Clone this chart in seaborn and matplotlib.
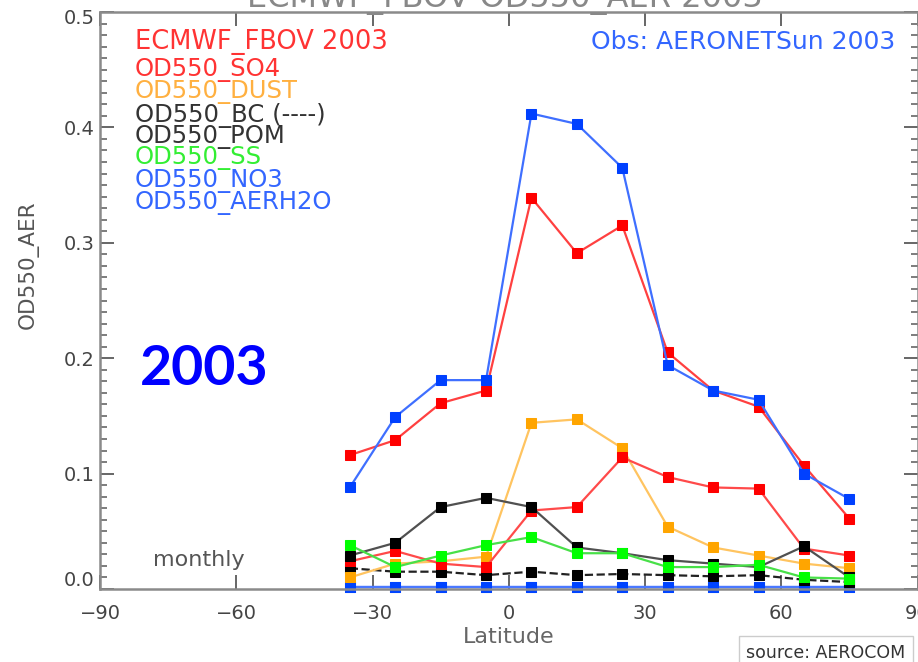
import matplotlib
matplotlib.use("Agg")
import matplotlib.pyplot as plt
from matplotlib.ticker import MultipleLocator, FixedLocator
from matplotlib.transforms import ScaledTranslation
import seaborn as sns

# ---- data ----
latitudes = [-35, -25, -15, -5, 5, 15, 25, 35, 45, 55, 65, 75]
obs_aeronet = [0.088, 0.149, 0.181, 0.181, 0.412, 0.403, 0.365, 0.194, 0.172, 0.164, 0.100, 0.078]
model_total = [0.116, 0.129, 0.161, 0.172, 0.339, 0.291, 0.315, 0.205, 0.172, 0.158, 0.107, 0.061]
od550_so4 = [0.024, 0.033, 0.022, 0.019, 0.068, 0.071, 0.114, 0.097, 0.088, 0.087, 0.035, 0.029]
od550_dust = [0.010, 0.022, 0.024, 0.028, 0.144, 0.147, 0.122, 0.054, 0.036, 0.029, 0.022, 0.018]
od550_bc = [0.018, 0.015, 0.015, 0.012, 0.015, 0.012, 0.013, 0.012, 0.011, 0.012, 0.008, 0.006]
od550_pom = [0.029, 0.040, 0.071, 0.079, 0.071, 0.036, 0.031, 0.025, 0.022, 0.019, 0.037, 0.010]
od550_ss = [0.038, 0.019, 0.029, 0.038, 0.045, 0.031, 0.031, 0.019, 0.019, 0.021, 0.010, 0.009]
od550_no3 = [0.002] * 12
od550_aerh2o = [0.002] * 12
x_ticks = [-90, -60, -30, 0, 30, 60, 90]
y_ticks = [0.0, 0.1, 0.2, 0.3, 0.4, 0.5]
legend_labels = ["OD550_SO4", "OD550_DUST", "OD550_BC (----)", "OD550_POM",
                 "OD550_SS", "OD550_NO3", "OD550_AERH2O"]

W, H = 918, 662
fig = plt.figure(figsize=(W / 100, H / 100), dpi=100)
ax = fig.add_axes([100 / W, 73 / H, 817.5 / W, 577 / H])


def px(x, y):
    return x / W, 1 - y / H


def draw(vals, lc, mc, ls="-"):
    sns.lineplot(x=latitudes, y=vals, ax=ax, color=lc, linestyle=ls, linewidth=1.6,
                 marker="s", markersize=7, markerfacecolor=mc, markeredgecolor=mc,
                 estimator=None, sort=False, legend=False, clip_on=False)


draw(od550_aerh2o, "#4a78ff", "#0044ff")
draw(od550_no3, "#4a78ff", "#0044ff")
draw(od550_bc, "#222222", "#000000", "--")
draw(od550_dust, "#ffc460", "#ffa500")
draw(od550_so4, "#ff4a4a", "#ff0000")
draw(od550_pom, "#505050", "#000000")
draw(od550_ss, "#48e048", "#00ff00")
draw(model_total, "#ff4040", "#ff0000")
draw(obs_aeronet, "#3f6fff", "#0040ff")

ax.set_xlim(-90, 90)
ax.set_ylim(0, 0.5)
ax.xaxis.set_major_locator(FixedLocator(x_ticks))
ax.yaxis.set_major_locator(FixedLocator(y_ticks))
ax.yaxis.set_minor_locator(MultipleLocator(0.01))
ax.set_yticklabels([f"{v:.1f}" for v in y_ticks])
ax.set_xticklabels([f"{v}".replace("-", "\u2212") for v in x_ticks])
ax.tick_params(which="major", direction="in", top=True, right=True, length=10,
               width=1.4, color="#666666", labelsize=14, labelcolor="#444444")
ax.tick_params(axis="x", which="major", pad=11)
ax.tick_params(axis="y", which="major", pad=4)
ax.tick_params(which="minor", direction="in", right=True, length=5, width=1.2,
               color="#666666")
for s in ax.spines.values():
    s.set_color("#8a8a8a")
    s.set_linewidth(1.8)

# end labels of the y axis sit slightly inside, as in the reference
ylabels = ax.get_yticklabels()
ylabels[0].set_transform(ylabels[0].get_transform() + ScaledTranslation(0, 0.10, fig.dpi_scale_trans))
ylabels[-1].set_transform(ylabels[-1].get_transform() + ScaledTranslation(0, -0.05, fig.dpi_scale_trans))

# axis labels
fig.text(*px(28, 265), "OD550_AER", rotation=90, ha="center", va="center",
         fontsize=15.5, color="#555555")
fig.text(*px(509, 637), "Latitude", ha="center", va="center", fontsize=16,
         color="#666666")

# cut-off title
fig.text(*px(505, 7), "ECMWF_FBOV OD550_AER 2003", ha="center", va="baseline",
         fontsize=23, color="#888888")

# legend texts
fig.text(*px(135, 42), "ECMWF_FBOV 2003", ha="left", va="center", fontsize=18.5,
         color="#ff3333")
fig.text(*px(895, 42), "Obs: AERONETSun 2003", ha="right", va="center",
         fontsize=18, color="#3366ff")
leg_colors = ["#ff3333", "#ffb040", "#333333", "#333333", "#33ee33", "#3366ff", "#3366ff"]
leg_y = [70, 92, 115, 137, 158, 181, 203]
for lab, c, yy in zip(legend_labels, leg_colors, leg_y):
    fig.text(*px(135, yy), lab, ha="left", va="center", fontsize=17.5, color=c)

fig.text(*px(153, 560), "monthly", ha="left", va="center", fontsize=16,
         color="#555555")

fig.text(*px(140, 369), "2003", ha="left", va="center", fontsize=40,
         fontweight="bold", color="#0000ff", family=["Lato", "DejaVu Sans"])

fig.text(*px(826, 653), "source: AEROCOM", ha="center", va="center", fontsize=12.5,
         color="#333333",
         bbox=dict(boxstyle="square,pad=0.45", fc="white", ec="#cccccc", lw=1))

fig.savefig("out.png", dpi=100)
